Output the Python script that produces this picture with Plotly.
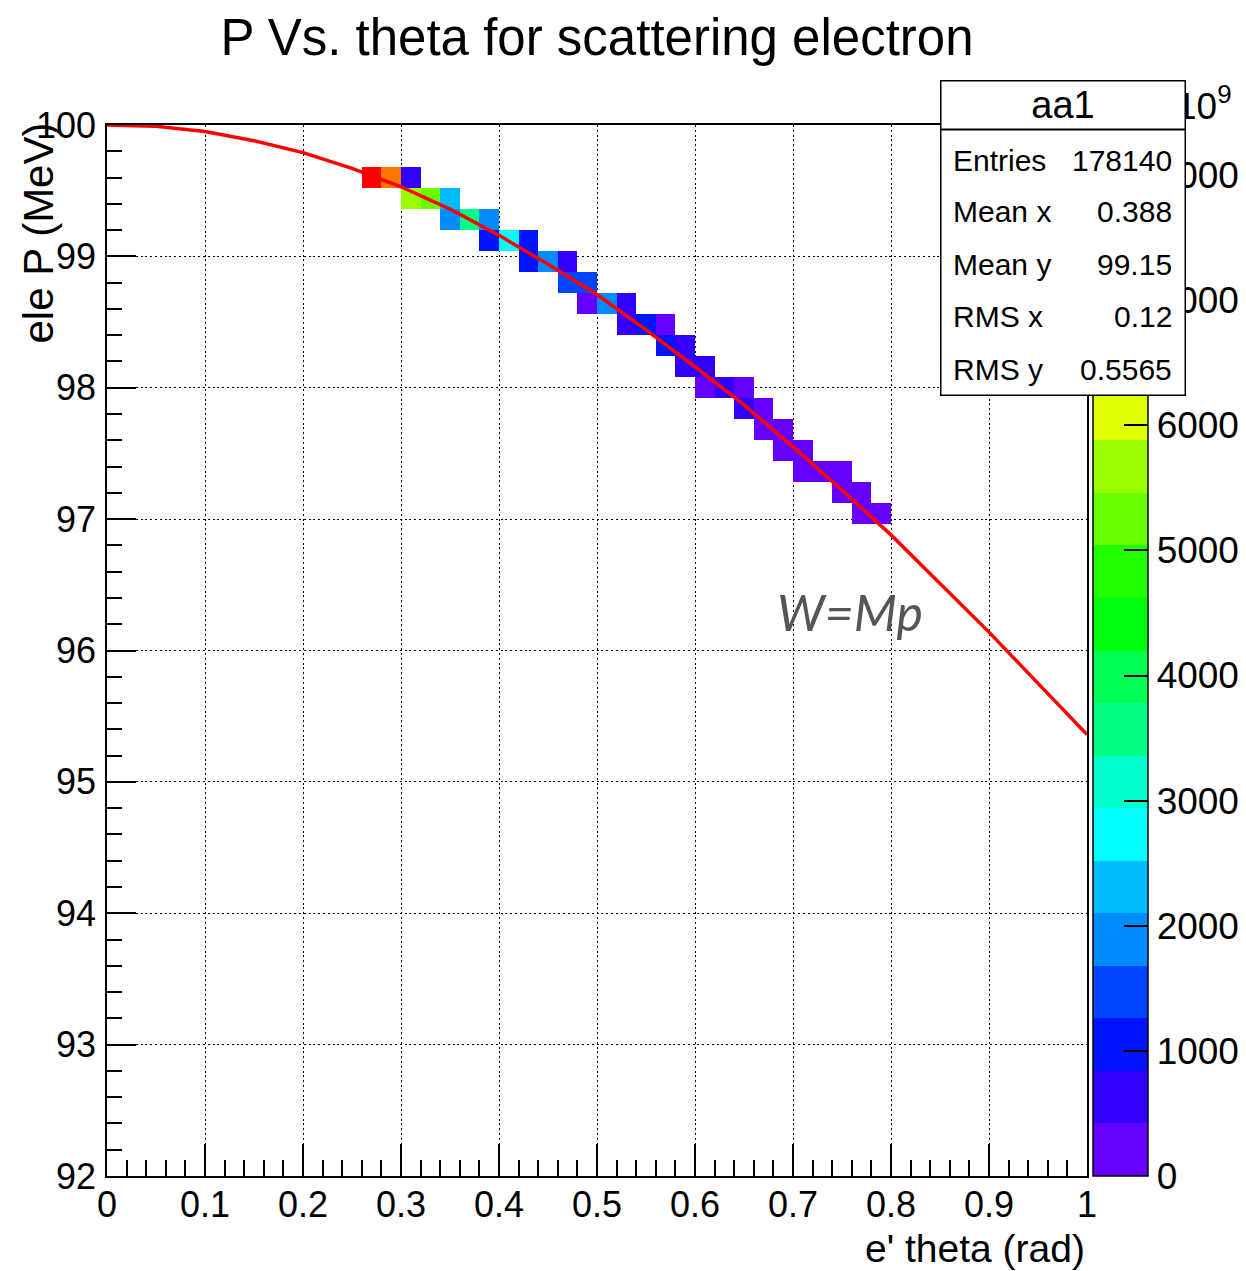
import colorsys
import numpy as np
import plotly.graph_objects as go

# ---------------- data ----------------
# red W = Mp curve
theta_line = [0.00, 0.05, 0.10, 0.15, 0.20, 0.25, 0.30, 0.35, 0.40, 0.45, 0.50,
              0.55, 0.60, 0.65, 0.70, 0.75, 0.80, 0.85, 0.90, 0.95, 1.00]
p_line = [100.00, 99.99, 99.95, 99.88, 99.79, 99.67, 99.53, 99.36, 99.16, 98.94, 98.71,
          98.44, 98.16, 97.87, 97.55, 97.22, 96.88, 96.51, 96.14, 95.75, 95.36]

# filled 2D histogram cells (bin centres) and their counts
cell_theta = [0.27, 0.29, 0.31,
              0.31, 0.33, 0.35,
              0.35, 0.37, 0.39,
              0.39, 0.41, 0.43,
              0.43, 0.45, 0.47,
              0.47, 0.49,
              0.49, 0.51, 0.53,
              0.53, 0.55, 0.57,
              0.57, 0.59,
              0.59, 0.61,
              0.61, 0.63, 0.65,
              0.65, 0.67,
              0.67, 0.69,
              0.69, 0.71,
              0.71, 0.73, 0.75,
              0.75, 0.77,
              0.77, 0.79]
cell_p = [99.60, 99.60, 99.60,
          99.44, 99.44, 99.44,
          99.28, 99.28, 99.28,
          99.12, 99.12, 99.12,
          98.96, 98.96, 98.96,
          98.80, 98.80,
          98.64, 98.64, 98.64,
          98.48, 98.48, 98.48,
          98.32, 98.32,
          98.16, 98.16,
          98.00, 98.00, 98.00,
          97.84, 97.84,
          97.68, 97.68,
          97.52, 97.52,
          97.36, 97.36, 97.36,
          97.20, 97.20,
          97.04, 97.04]
cell_counts = [8200, 7300, 600,
               5600, 5200, 2300,
               1900, 3550, 1900,
               1000, 2700, 1000,
               1000, 1900, 600,
               1450, 1450,
               200, 1900, 600,
               600, 1000, 200,
               1000, 600,
               600, 600,
               200, 600, 200,
               600, 200,
               200, 200,
               200, 200,
               200, 200, 200,
               200, 200,
               200, 200]

x_tickvals = [0.0, 0.1, 0.2, 0.3, 0.4, 0.5, 0.6, 0.7, 0.8, 0.9, 1.0]
x_ticktext = ["0", "0.1", "0.2", "0.3", "0.4", "0.5", "0.6", "0.7", "0.8", "0.9", "1"]
y_tickvals = [92, 93, 94, 95, 96, 97, 98, 99, 100]
z_tickvals = [0, 1000, 2000, 3000, 4000, 5000, 6000, 7000, 8000]

stats_title = "aa1"
stats_labels = ["Entries", "Mean x", "Mean y", "RMS x", "RMS y"]
stats_values = ["178140", "0.388", "99.15", "0.12", "0.5565"]

# ---------------- layout geometry ----------------
W, H = 1246, 1271
L, R, T, B = 107, 159, 125, 95
PW, PH = W - L - R, H - T - B


def px_x(px):
    return (px - L) / PW


def px_y(py):
    return 1 - (py - T) / PH


FONT = "Liberation Sans, Arial, Helvetica, sans-serif"

# histogram binning: 50 x 50 bins
nbx, nby = 50, 50
x_lo, x_hi, y_lo, y_hi = 0.0, 1.0, 92.0, 100.0
dx, dy = (x_hi - x_lo) / nbx, (y_hi - y_lo) / nby
xc = x_lo + dx * (np.arange(nbx) + 0.5)
yc = y_lo + dy * (np.arange(nby) + 0.5)
z = np.full((nby, nbx), np.nan)
for t, p, c in zip(cell_theta, cell_p, cell_counts):
    j = int(round((t - x_lo) / dx - 0.5))
    k = int(round((p - y_lo) / dy - 0.5))
    z[k, j] = c

# ROOT "pretty" palette (violet -> red), 20 contour levels
ZMAX = 8400
NLEV = 20
NPAL = 50


def pal_color(idx):
    hue = 280 - (idx + 1) * (280.0 / NPAL)
    r, g, b = colorsys.hls_to_rgb(hue / 360.0, 0.5, 1.0)
    return "rgb(%d,%d,%d)" % (round(r * 255), round(g * 255), round(b * 255))


colorscale = []
for i in range(NLEV):
    col = pal_color(int((i + 0.99) * NPAL / NLEV))
    colorscale.append([i / NLEV, col])
    colorscale.append([(i + 1) / NLEV, col])

fig = go.Figure()
fig.add_trace(go.Heatmap(
    x=xc, y=yc, z=z, zmin=0, zmax=ZMAX, colorscale=colorscale,
    hoverinfo="skip", xgap=0, ygap=0,
    colorbar=dict(
        x=px_x(1093), xanchor="left", xpad=0, xref="paper",
        y=0.5, yanchor="middle", ypad=0, len=1.0, lenmode="fraction",
        thickness=55, outlinecolor="black", outlinewidth=1.5,
        tickvals=z_tickvals, ticks="inside", ticklen=24, tickwidth=1.5,
        tickcolor="black", tickfont=dict(family=FONT, size=37, color="black"),
        ticklabelposition="outside",
    ),
))
fig.add_trace(go.Scatter(
    x=theta_line, y=p_line, mode="lines", line=dict(color="red", width=3.5),
    hoverinfo="skip", showlegend=False,
))

axis_common = dict(
    showline=True, linecolor="black", linewidth=1.5, mirror=True,
    ticks="inside", tickcolor="black", tickwidth=1.5,
    showgrid=True, gridcolor="black", gridwidth=1.3, griddash="2px,2.8px",
    zeroline=False, tickfont=dict(family=FONT, size=36, color="black"),
)
fig.update_xaxes(
    range=[x_lo, x_hi], tickvals=x_tickvals, ticktext=x_ticktext, ticklen=32,
    minor=dict(dtick=0.02, ticklen=16, ticks="inside", tickcolor="black",
               tickwidth=1.5, showgrid=False, tick0=0),
    ticklabelstandoff=-4, automargin=False, **axis_common,
)
fig.update_yaxes(
    range=[y_lo, y_hi], tickvals=y_tickvals, ticklen=29,
    minor=dict(dtick=0.2, ticklen=15, ticks="inside", tickcolor="black",
               tickwidth=1.5, showgrid=False, tick0=92),
    ticklabelstandoff=2, automargin=False, **axis_common,
)

ann = []
# axis titles
ann.append(dict(text="e' theta (rad)", xref="paper", yref="paper",
                x=px_x(1087), y=px_y(1248), xanchor="right", yanchor="middle",
                showarrow=False, font=dict(family=FONT, size=39, color="black")))
ann.append(dict(text="ele P (MeV)", xref="paper", yref="paper", textangle=-90,
                x=px_x(38), y=px_y(121), xanchor="center", yanchor="top",
                showarrow=False, font=dict(family=FONT, size=42, color="black")))
# W = Mp label
ann.append(dict(text="<i>W=Mp</i>", xref="paper", yref="paper",
                x=px_x(850), y=px_y(612), xanchor="center", yanchor="middle",
                showarrow=False, font=dict(family="Lato, sans-serif", size=50, color="#555555")))
# exponent label partly hidden behind stats box
ann.append(dict(text="10<sup>9</sup>", xref="paper", yref="paper",
                x=px_x(1234), y=px_y(104), xanchor="right", yanchor="middle",
                showarrow=False, font=dict(family=FONT, size=37, color="black")))
# stats box
BOX_L, BOX_R, BOX_T, BOX_M, BOX_B = 940, 1186, 80, 130, 395
ann.append(dict(text=stats_title, xref="paper", yref="paper",
                x=px_x(BOX_L), y=px_y(BOX_T), xanchor="left", yanchor="top",
                width=BOX_R - BOX_L - 3, height=BOX_M - BOX_T - 3, borderpad=0,
                bgcolor="white", bordercolor="black", borderwidth=1.5,
                showarrow=False, align="center",
                font=dict(family=FONT, size=38, color="black")))
ann.append(dict(text=" ", xref="paper", yref="paper",
                x=px_x(BOX_L), y=px_y(BOX_M - 1.5), xanchor="left", yanchor="top",
                width=BOX_R - BOX_L - 3, height=BOX_B - BOX_M - 1.5, borderpad=0,
                bgcolor="white", bordercolor="black", borderwidth=1.5,
                showarrow=False, font=dict(family=FONT, size=20)))
row_y = [160, 212, 264, 316, 369]
for lab, val, ry in zip(stats_labels, stats_values, row_y):
    ann.append(dict(text=lab, xref="paper", yref="paper", x=px_x(951), y=px_y(ry),
                    xanchor="left", yanchor="middle", showarrow=False,
                    font=dict(family=FONT, size=30, color="black")))
    ann.append(dict(text=val, xref="paper", yref="paper", x=px_x(1174), y=px_y(ry),
                    xanchor="right", yanchor="middle", showarrow=False,
                    font=dict(family=FONT, size=30, color="black")))

fig.update_layout(
    width=W, height=H, autosize=False,
    margin=dict(l=L, r=R, t=T, b=B, pad=0, autoexpand=False),
    paper_bgcolor="white", plot_bgcolor="white",
    showlegend=False,
    title=dict(text="P Vs. theta for scattering electron", xref="paper", yref="container",
               x=px_x(597), xanchor="center", y=1 - 37 / H, yanchor="middle",
               font=dict(family=FONT, size=51, color="black")),
    annotations=ann,
)

fig.write_html("out.html")
